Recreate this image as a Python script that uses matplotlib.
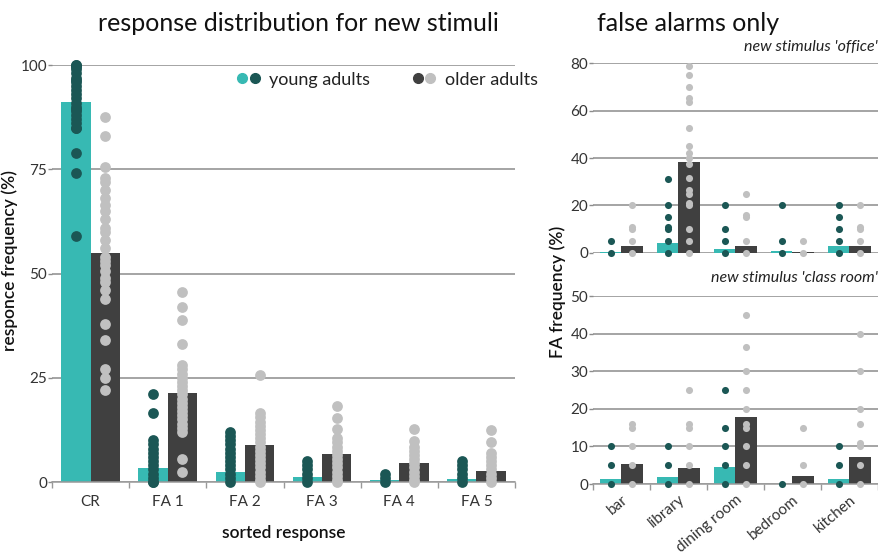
import numpy as np
import matplotlib.pyplot as plt
from matplotlib.lines import Line2D
from matplotlib.legend_handler import HandlerTuple

plt.rcParams['font.family'] = ['Lato', 'DejaVu Sans']

TEAL = '#37b9b3'
TEAL_DARK = '#1b5755'
BAR_DARK = '#404040'
DOT_LIGHT = '#c0c0c0'
GRID = '#8c8c8c'
TXT = '#333333'

# left panel: response distribution per sorted response
responses = ['CR', 'FA 1', 'FA 2', 'FA 3', 'FA 4', 'FA 5']
young_mean = [91.2, 3.3, 2.3, 1.1, 0.4, 0.6]
older_mean = [55.0, 21.3, 8.9, 6.8, 4.6, 2.6]
young_resp = [
    [100, 100, 99.5, 99, 98, 97, 96.5, 96, 95, 94, 93, 92, 91, 90, 89.5, 89, 88, 87, 86, 85, 85, 79, 74, 59],
    [21, 16.5, 10, 9, 8, 7, 6, 5, 4, 3, 2, 1, 0, 0],
    [12, 11, 10, 9, 8, 7, 6, 5, 4, 3, 2, 1, 0],
    [5, 4, 3, 2, 1, 0],
    [2, 1, 0],
    [5, 4, 3, 2, 1, 0],
]
older_resp = [
    [87.5, 83, 75.5, 73, 72, 70, 68, 66.5, 65, 63, 61, 60, 58, 56, 54, 53, 52, 50.5, 49, 48, 46, 44,
     38, 34, 27, 25, 22],
    [45.6, 42, 38.8, 33, 28, 27, 26, 25, 24, 23, 22, 21, 20, 19, 18, 17, 16, 15, 14, 13, 12, 5.5, 2.5],
    [25.7, 16.5, 15.5, 14.5, 13.5, 12.5, 11.5, 10.5, 9.5, 8.5, 7.5, 6.5, 5.5, 4.5, 3.5, 2.5, 1.5, 0.5, 0],
    [18.2, 15.4, 12.7, 10.6, 9.5, 8.5, 7.5, 6.5, 5.5, 4.5, 3.5, 2.5, 1.5, 0.5, 0],
    [12.7, 9.8, 8.5, 7.5, 6.5, 5.5, 4.5, 3.5, 2.5, 1.5, 0.5, 0],
    [12.5, 9.6, 7, 6, 5, 4, 3, 2, 1, 0],
]

# right panels: false alarms by confused scene
scenes = ['bar', 'library', 'dining room', 'bedroom', 'kitchen']

office_young_mean = [0.4, 4.3, 1.7, 0.8, 3.0]
office_older_mean = [2.8, 38.5, 2.7, 0.4, 2.7]
office_young = [
    [5, 0],
    [31, 20, 15, 11, 10, 5, 0],
    [20, 10, 5, 0],
    [20, 5, 0],
    [20, 15, 10, 5, 0],
]
office_older = [
    [20, 11, 10, 5, 0],
    [79, 75, 70, 65.5, 63.5, 52.5, 45, 42, 40, 37.5, 31.5, 26.5, 25, 21, 20, 10, 5, 0],
    [25, 16, 15, 5, 0],
    [5, 0],
    [20, 11, 10, 5, 0],
]

classroom_young_mean = [1.4, 1.8, 4.4, 0, 1.3]
classroom_older_mean = [5.2, 4.3, 17.9, 2.2, 7.3]
classroom_young = [
    [10, 5, 0],
    [10, 5, 0],
    [25, 15, 10, 5, 0],
    [0],
    [10, 5, 0],
]
classroom_older = [
    [16, 15, 10, 5, 0],
    [25, 16, 15, 10, 5, 0],
    [45, 36.5, 30, 25, 20, 16, 15, 10, 5, 0],
    [15, 5, 0],
    [40, 30, 20, 16, 11, 10, 5, 0],
]


def draw_panel(ax, young_bars, older_bars, young_pts, older_pts, width, dot_size, ymax, yticks):
    x = np.arange(len(young_bars))
    ax.bar(x - width / 2, young_bars, width, color=TEAL, zorder=2)
    ax.bar(x + width / 2, older_bars, width, color=BAR_DARK, zorder=2)
    for i in range(len(x)):
        ax.scatter(np.full(len(young_pts[i]), i - width / 2), young_pts[i], s=dot_size,
                   color=TEAL_DARK, lw=0, zorder=3, clip_on=False)
        ax.scatter(np.full(len(older_pts[i]), i + width / 2), older_pts[i], s=dot_size,
                   color=DOT_LIGHT, lw=0, zorder=3, clip_on=False)
    ax.set_xlim(-0.5, len(x) - 0.5)
    ax.set_ylim(0, ymax)
    ax.set_yticks(yticks)
    ax.yaxis.grid(True, color=GRID, lw=1.1)
    ax.set_axisbelow(True)
    for side in ['top', 'right', 'left']:
        ax.spines[side].set_visible(False)
    ax.spines['bottom'].set_color('#999999')
    ax.spines['bottom'].set_linewidth(1.1)
    ax.tick_params(axis='y', length=3, width=1, color=GRID, pad=0.5, labelcolor=TXT, labelsize=11)
    ax.set_xticks(x)
    ax.set_xticks(np.arange(-0.5, len(x), 1), minor=True)
    ax.tick_params(axis='x', which='major', length=0, labelcolor=TXT, labelsize=11, pad=9)
    ax.tick_params(axis='x', which='minor', length=4, width=1, color='#999999')


fig = plt.figure(figsize=(8.79, 5.58), dpi=100)

ax1 = fig.add_axes([0.0592, 0.1362, 0.5267, 0.7473])
draw_panel(ax1, young_mean, older_mean, young_resp, older_resp, 0.38, 60, 100, [0, 25, 50, 75, 100])
ax1.set_xticklabels(responses)
ax1.set_xlabel('sorted response', fontsize=12.5, fontweight='semibold', color='#111111', labelpad=12)
ax1.set_ylabel('responce frequency (%)', fontsize=12.5, fontweight='semibold', color='#111111')
ax1.yaxis.set_label_coords(-0.074, 0.53)

young_handle = (Line2D([], [], ls='', marker='o', ms=7, color=TEAL),
                Line2D([], [], ls='', marker='o', ms=7, color=TEAL_DARK))
older_handle = (Line2D([], [], ls='', marker='o', ms=7, color=BAR_DARK),
                Line2D([], [], ls='', marker='o', ms=7, color=DOT_LIGHT))
ax1.legend([young_handle, older_handle], ['young adults', 'older adults'],
           handler_map={tuple: HandlerTuple(ndivide=None, pad=0)},
           loc='center left', bbox_to_anchor=(0.268, 0.857), bbox_transform=fig.transFigure,
           ncol=2, frameon=False, fontsize=13, handlelength=1.4, handletextpad=0.45,
           columnspacing=2.3, borderpad=0, borderaxespad=0, labelcolor='#222222')

ax2 = fig.add_axes([0.6746, 0.5471, 0.3242, 0.3394])
draw_panel(ax2, office_young_mean, office_older_mean, office_young, office_older,
           0.37, 26, 80, [0, 20, 40, 60, 80])
ax2.spines['bottom'].set_visible(False)
ax2.tick_params(axis='x', which='both', length=0, labelbottom=False)
ax2.text(1.0, 1.05, "new stimulus 'office'", transform=ax2.transAxes, ha='right', va='bottom',
         fontsize=11.5, style='italic', color='#222222')

ax3 = fig.add_axes([0.6746, 0.1326, 0.3242, 0.3369])
draw_panel(ax3, classroom_young_mean, classroom_older_mean, classroom_young, classroom_older,
           0.37, 26, 50, [0, 10, 20, 30, 40, 50])
ax3.set_xticklabels(scenes, rotation=40, ha='right', rotation_mode='anchor')
ax3.tick_params(axis='x', which='major', pad=6)
ax3.text(1.0, 1.06, "new stimulus 'class room'", transform=ax3.transAxes, ha='right', va='bottom',
         fontsize=11.5, style='italic', color='#222222')

fig.text(0.635, 0.477, 'FA frequency (%)', rotation=90, ha='center', va='center',
         fontsize=12.5, fontweight='semibold', color='#111111')

fig.text(0.339, 0.958, 'response distribution for new stimuli', ha='center', va='center',
         fontsize=18, color='#111111')
fig.text(0.679, 0.958, 'false alarms only', ha='left', va='center', fontsize=18, color='#111111')

fig.savefig('out.png', dpi=100)
